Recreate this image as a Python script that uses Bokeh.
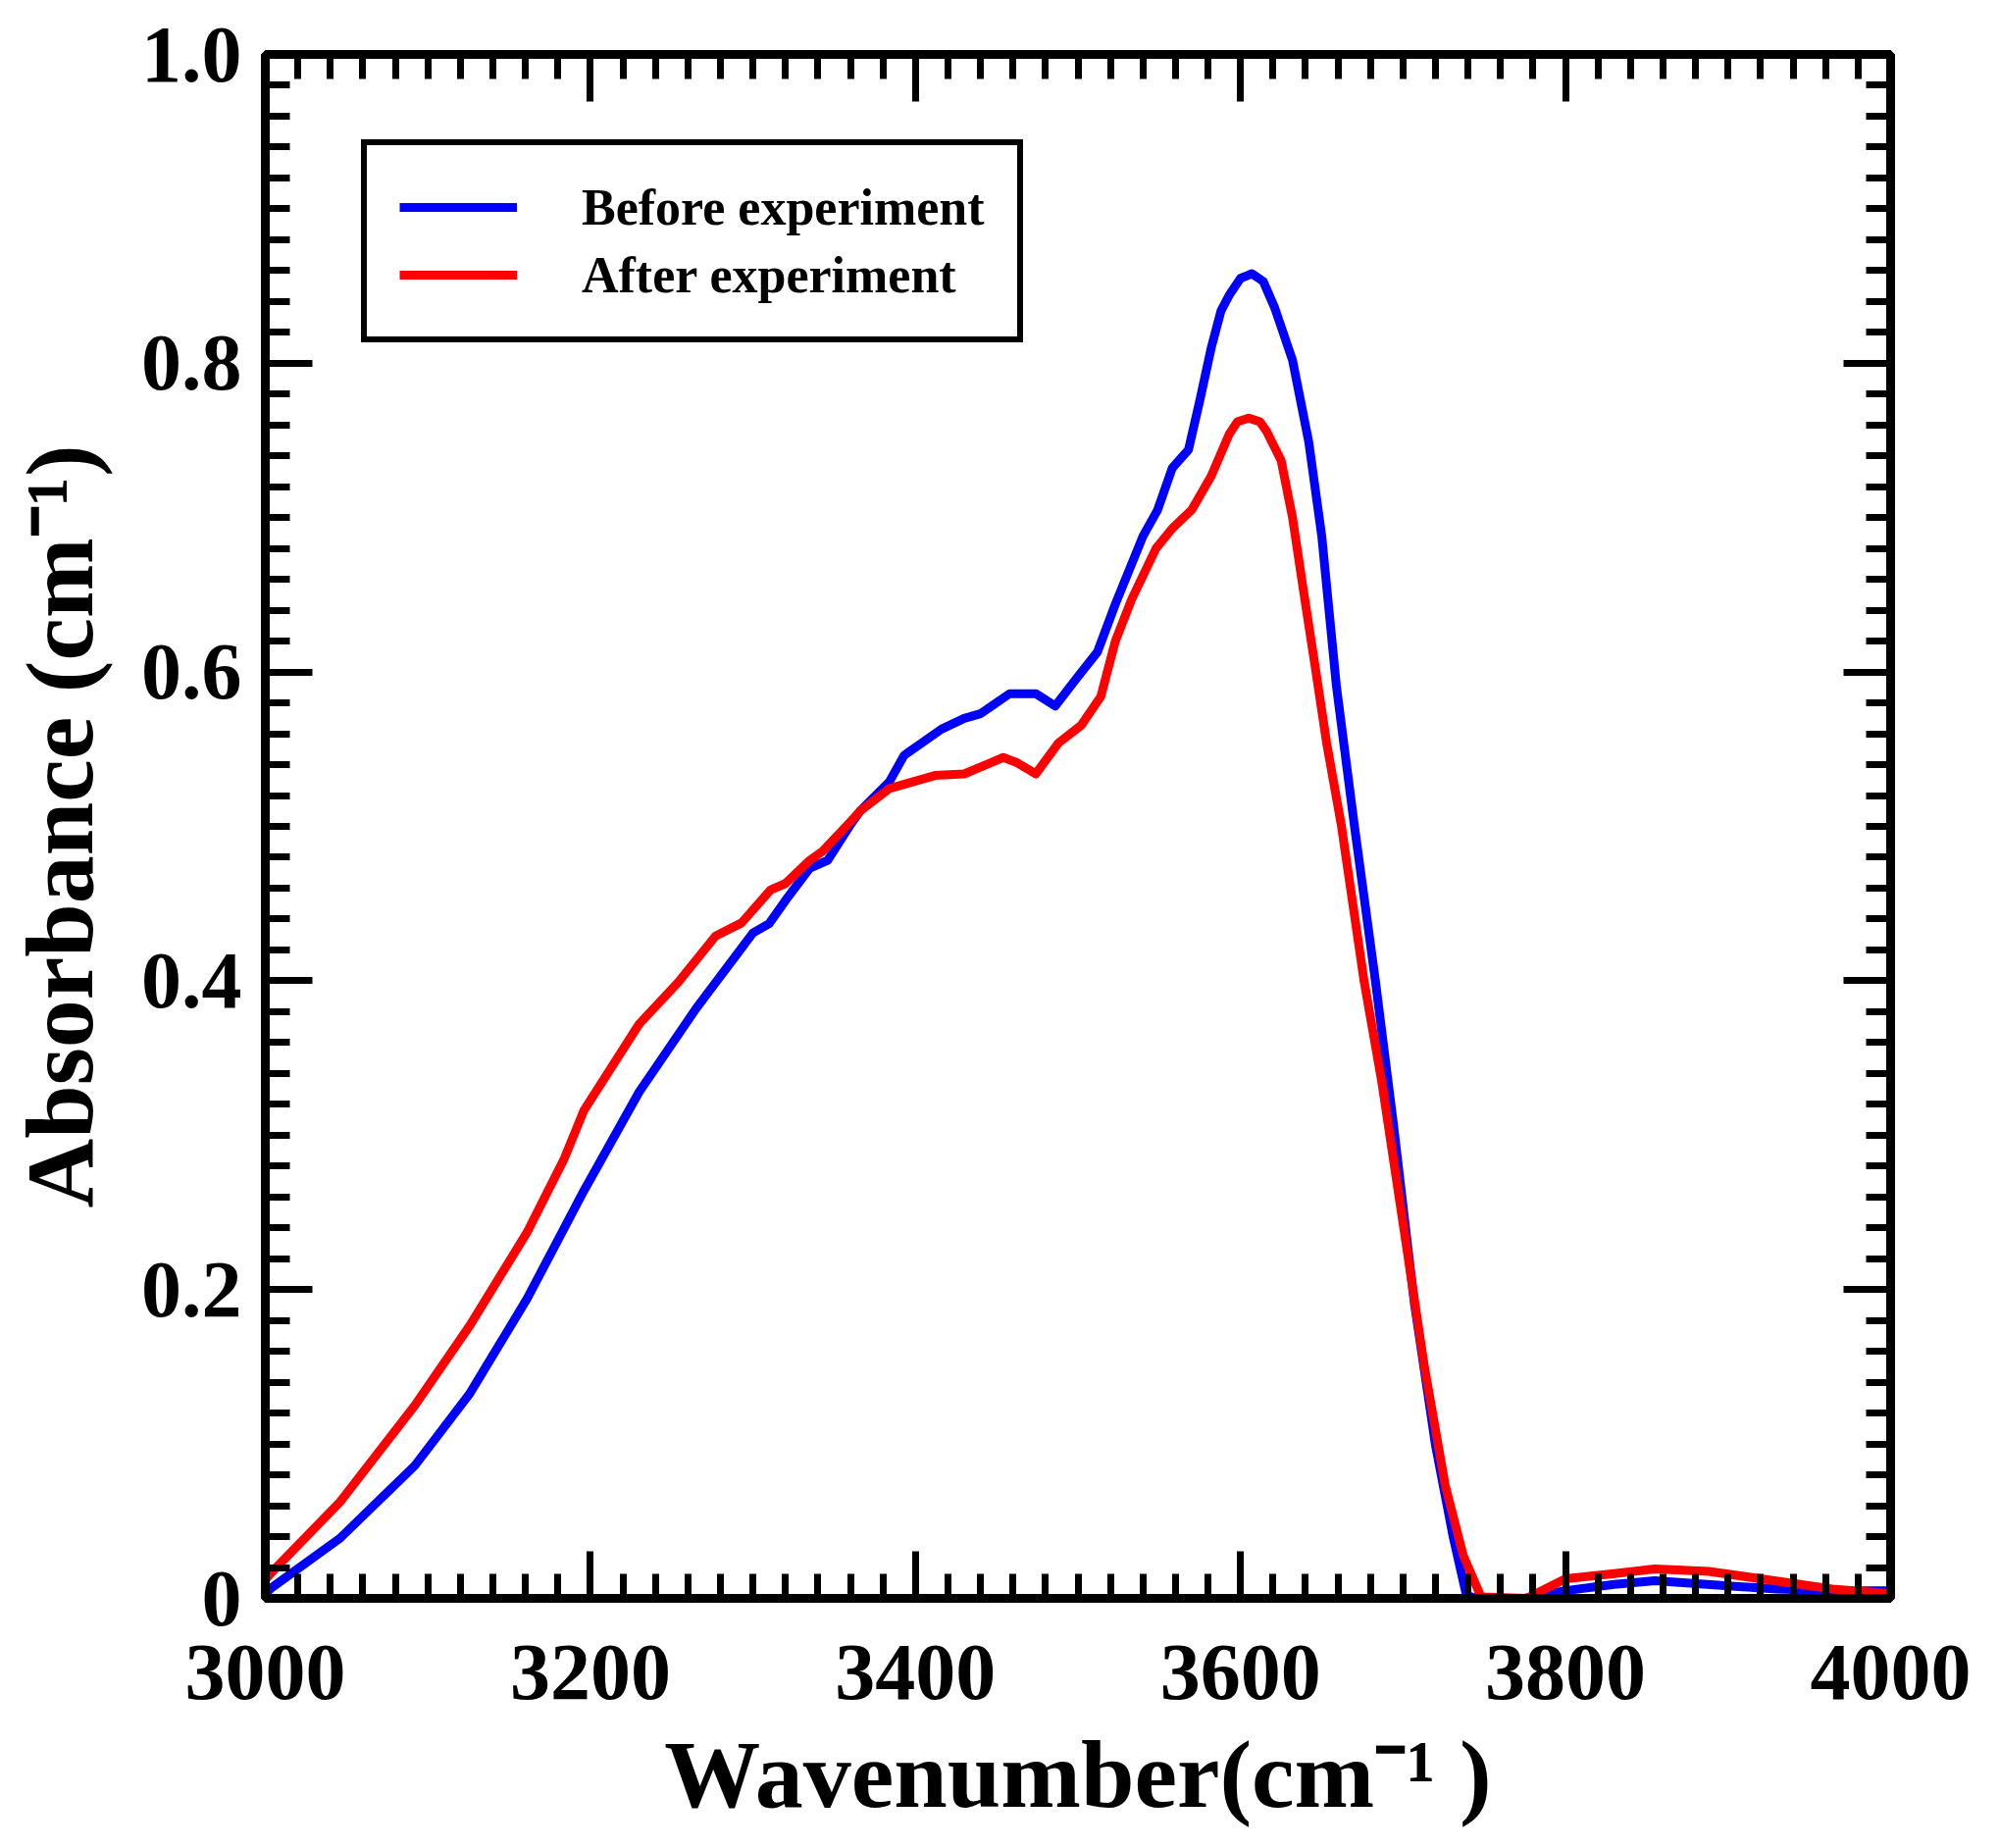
from bokeh.plotting import figure
from bokeh.models import (Range1d, LinearAxis, FixedTicker, Legend, LegendItem)
from bokeh.embed import file_html
from bokeh.resources import INLINE

# ---------------- data ----------------
wn_before = [3000, 3004, 3046, 3092, 3126, 3161, 3196, 3230, 3265, 3300, 3310,
             3320, 3335, 3346, 3360, 3366, 3384, 3393, 3416, 3430, 3440, 3458,
             3474, 3486, 3500, 3512, 3523, 3540, 3549, 3558, 3568, 3575, 3582,
             3588, 3593, 3600, 3607, 3614, 3621, 3632, 3642, 3650, 3659, 3670,
             3683, 3694, 3707, 3720, 3731, 3739, 3745, 3775, 3783, 3800, 3830,
             3855, 3887, 3930, 3970, 4000]
abs_before = [0.003, 0.007, 0.039, 0.086, 0.133, 0.194, 0.264, 0.328, 0.382, 0.431, 0.437,
              0.452, 0.473, 0.478, 0.501, 0.510, 0.529, 0.546, 0.563, 0.570, 0.573, 0.586,
              0.586, 0.578, 0.597, 0.613, 0.644, 0.688, 0.705, 0.732, 0.744, 0.776, 0.810,
              0.834, 0.844, 0.855, 0.858, 0.853, 0.836, 0.802, 0.749, 0.688, 0.591, 0.501,
              0.400, 0.308, 0.191, 0.099, 0.039, 0.002, 0.0, 0.0, 0.002, 0.005, 0.009,
              0.0115, 0.009, 0.006, 0.005, 0.005]

wn_after = [3000, 3004, 3046, 3092, 3126, 3161, 3184, 3196, 3230, 3254, 3277,
            3293, 3311, 3320, 3335, 3343, 3360, 3366, 3384, 3412, 3430, 3446,
            3454, 3462, 3474, 3488, 3502, 3514, 3523, 3533, 3548, 3558, 3570,
            3582, 3593, 3598, 3605, 3612, 3616, 3625, 3632, 3639, 3646, 3653,
            3662, 3676, 3687, 3700, 3713, 3726, 3737, 3748, 3776, 3800, 3830,
            3855, 3888, 3920, 3964, 4000]
abs_after = [0.012, 0.017, 0.0625, 0.125, 0.177, 0.237, 0.285, 0.316, 0.372, 0.399, 0.429,
             0.4375, 0.459, 0.463, 0.478, 0.484, 0.503, 0.510, 0.5245, 0.533, 0.534, 0.541,
             0.5447, 0.5415, 0.534, 0.554, 0.5655, 0.584, 0.620, 0.647, 0.680, 0.693, 0.705,
             0.727, 0.754, 0.762, 0.7645, 0.762, 0.756, 0.737, 0.700, 0.651, 0.603, 0.554,
             0.501, 0.400, 0.334, 0.243, 0.151, 0.073, 0.028, 0.001, 0.0, 0.0127, 0.016,
             0.019, 0.0175, 0.0127, 0.006, 0.003]

series_names = ["Before experiment", "After experiment"]
series_colors = ["#0000FF", "#FF0000"]

x_major = [3000, 3200, 3400, 3600, 3800, 4000]
x_minor = list(range(3000, 4001, 20))
x_tick_labels = ["3000", "3200", "3400", "3600", "3800", "4000"]
y_major = [0.0, 0.2, 0.4, 0.6, 0.8, 1.0]
y_minor = [round(i * 0.02, 2) for i in range(51)]
y_tick_labels = ["0", "0.2", "0.4", "0.6", "0.8", "1.0"]
x_title = "Wavenumber(cm\u207b\u00b9 )"
y_title = "Absorbance (cm\u207b\u00b9)"

FONT = "Liberation Serif"

# ---------------- figure ----------------
p = figure(width=2030, height=1876, output_backend="svg", toolbar_location=None,
           x_range=Range1d(3000, 4000), y_range=Range1d(0, 1),
           min_border_left=270, min_border_right=103,
           min_border_top=55, min_border_bottom=247)
p.xgrid.visible = False
p.ygrid.visible = False
p.outline_line_color = "black"
p.outline_line_width = 9
p.background_fill_color = "white"
p.border_fill_color = "white"


def style_axis(ax, major, minor, labels, show_labels):
    ax.ticker = FixedTicker(ticks=major, minor_ticks=minor)
    ax.axis_line_width = 9
    ax.axis_line_color = "black"
    ax.major_tick_in = 48
    ax.major_tick_out = 0
    ax.minor_tick_in = 25
    ax.minor_tick_out = 0
    ax.major_tick_line_width = 7
    ax.minor_tick_line_width = 7
    ax.major_tick_line_color = "black"
    ax.minor_tick_line_color = "black"
    ax.major_label_overrides = {t: l for t, l in zip(major, labels)}
    ax.axis_label_text_font = FONT
    ax.axis_label_text_font_style = "bold"
    ax.axis_label_text_color = "black"
    if show_labels:
        ax.major_label_text_font = FONT
        ax.major_label_text_font_style = "bold"
        ax.major_label_text_font_size = "82px"
        ax.major_label_text_color = "black"
    else:
        ax.major_label_text_font_size = "2px"
        ax.major_label_text_alpha = 0.0


style_axis(p.xaxis[0], x_major, x_minor, x_tick_labels, True)
p.xaxis[0].major_label_standoff = 48
p.xaxis[0].axis_label = x_title
p.xaxis[0].axis_label_text_font_size = "98px"
p.xaxis[0].axis_label_standoff = 20
style_axis(p.yaxis[0], y_major, y_minor, y_tick_labels, True)
p.yaxis[0].major_label_standoff = 24
p.yaxis[0].axis_label = y_title
p.yaxis[0].axis_label_text_font_size = "98px"
p.yaxis[0].axis_label_standoff = 26

top_ax = LinearAxis()
style_axis(top_ax, x_major, x_minor, x_tick_labels, False)
p.add_layout(top_ax, "above")
right_ax = LinearAxis()
style_axis(right_ax, y_major, y_minor, y_tick_labels, False)
p.add_layout(right_ax, "right")

# ---------------- curves ----------------
r_before = p.line(wn_before, abs_before, line_color=series_colors[0], line_width=9,
                  line_join="round")
r_after = p.line(wn_after, abs_after, line_color=series_colors[1], line_width=9,
                 line_join="round")

legend = Legend(items=[LegendItem(label=series_names[0], renderers=[r_before]),
                       LegendItem(label=series_names[1], renderers=[r_after])],
                location=(98, 1280), padding=33, spacing=9,
                glyph_width=120, glyph_height=60, label_height=60,
                label_standoff=66,
                label_text_font=FONT, label_text_font_style="bold",
                label_text_font_size="52px", label_text_color="black",
                border_line_color="black", border_line_width=6, border_line_alpha=1.0,
                background_fill_color="white", background_fill_alpha=1.0)
p.add_layout(legend, "center")

open("out.html", "w").write(file_html(p, INLINE))
